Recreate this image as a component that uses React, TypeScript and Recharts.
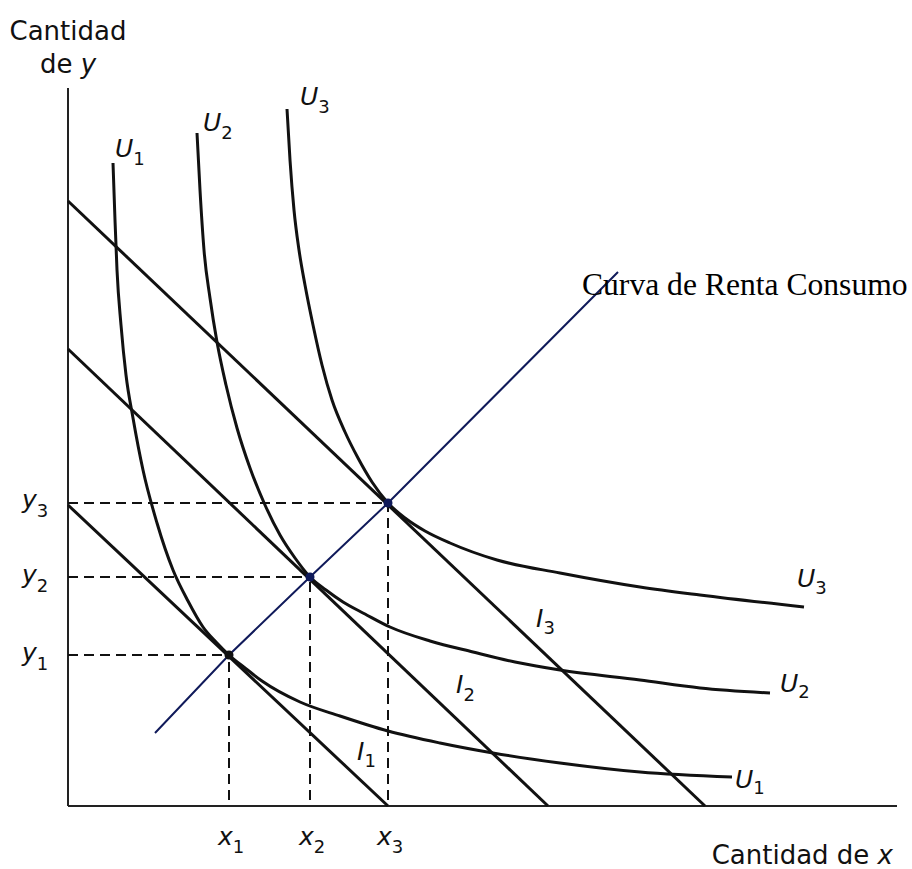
import { LineChart, Line, XAxis, YAxis, ReferenceLine, ReferenceDot } from "recharts";

type Pt = { x: number; y: number };

// quantities of x and y (origin = corner of the axes)
const U1: Pt[] = [
  { x: 45, y: 643 }, { x: 47, y: 586 }, { x: 49, y: 536 }, { x: 53, y: 481 },
  { x: 58, y: 431 }, { x: 65, y: 388 }, { x: 75, y: 336 }, { x: 89, y: 283 },
  { x: 105, y: 236 }, { x: 120, y: 205 }, { x: 135, y: 179 }, { x: 148, y: 164 },
  { x: 161, y: 151 }, { x: 177, y: 138 }, { x: 194, y: 125 }, { x: 232, y: 104 },
  { x: 272, y: 90 }, { x: 320, y: 75 }, { x: 372, y: 63 }, { x: 425, y: 53 },
  { x: 492, y: 43 }, { x: 572, y: 34 }, { x: 664, y: 29 },
];
const U2: Pt[] = [
  { x: 129, y: 673 }, { x: 132, y: 616 }, { x: 136, y: 556 }, { x: 142, y: 508 },
  { x: 149, y: 464 }, { x: 158, y: 421 }, { x: 169, y: 378 }, { x: 182, y: 338 },
  { x: 197, y: 301 }, { x: 212, y: 271 }, { x: 227, y: 248 }, { x: 242, y: 229 },
  { x: 258, y: 216 }, { x: 275, y: 204 }, { x: 297, y: 192 }, { x: 322, y: 179 },
  { x: 362, y: 165 }, { x: 405, y: 154 }, { x: 447, y: 144 }, { x: 492, y: 136 },
  { x: 572, y: 126 }, { x: 632, y: 118 }, { x: 702, y: 113 },
];
const U3: Pt[] = [
  { x: 219, y: 697 }, { x: 222, y: 646 }, { x: 226, y: 596 }, { x: 231, y: 556 },
  { x: 237, y: 521 }, { x: 245, y: 481 }, { x: 254, y: 441 }, { x: 264, y: 406 },
  { x: 277, y: 374 }, { x: 290, y: 348 }, { x: 304, y: 324 }, { x: 320, y: 303 },
  { x: 337, y: 288 }, { x: 357, y: 275 }, { x: 382, y: 263 }, { x: 429, y: 246 },
  { x: 492, y: 233 }, { x: 572, y: 219 }, { x: 632, y: 211 }, { x: 736, y: 199 },
];

// budget lines (intercepts on both axes)
const I1: Pt[] = [{ x: 0, y: 301 }, { x: 320, y: 0 }];
const I2: Pt[] = [{ x: 0, y: 457 }, { x: 480, y: 0 }];
const I3: Pt[] = [{ x: 0, y: 605 }, { x: 637, y: 0 }];

// equilibrium points
const X_EQ = [161, 242, 320];
const Y_EQ = [151, 229, 303];

// curva de renta consumo
const CRC: Pt[] = [
  { x: 87, y: 73 }, { x: 161, y: 151 }, { x: 242, y: 229 }, { x: 320, y: 303 }, { x: 550, y: 534 },
];

const X_AXIS_END = 829;
const Y_AXIS_END = 718;

const INK = "#111";
const NAVY = "#101a5a";
const SANS = "'DejaVu Sans', sans-serif";

function Sub({ x, y, main, sub, dy = 8 }: { x: number; y: number; main: string; sub: string; dy?: number }) {
  return (
    <text x={x} y={y} fontFamily={SANS} fontSize={25} fontStyle="italic" fill={INK}>
      {main}
      <tspan dy={dy} fontSize={18} fontStyle="normal">{sub}</tspan>
    </text>
  );
}

export default function App() {
  return (
    <div style={{ position: "absolute", left: 0, top: 0, width: 912, height: 869, background: "#fff" }}>
      <LineChart width={912} height={869} margin={{ top: 0, right: 0, bottom: 0, left: 0 }}>
        <XAxis type="number" dataKey="x" domain={[-68, 844]} allowDataOverflow hide />
        <YAxis type="number" dataKey="y" domain={[-63, 806]} allowDataOverflow hide />

        <ReferenceLine segment={[{ x: 0, y: 0 }, { x: X_AXIS_END, y: 0 }]} stroke="#222" strokeWidth={2} />
        <ReferenceLine segment={[{ x: 0, y: 0 }, { x: 0, y: Y_AXIS_END }]} stroke="#222" strokeWidth={2} />

        {X_EQ.map((xv, i) => (
          <ReferenceLine key={"h" + i} segment={[{ x: 0, y: Y_EQ[i] }, { x: xv, y: Y_EQ[i] }]}
            stroke={INK} strokeWidth={2} strokeDasharray="10 6" />
        ))}
        {X_EQ.map((xv, i) => (
          <ReferenceLine key={"v" + i} segment={[{ x: xv, y: 6 }, { x: xv, y: Y_EQ[i] }]}
            stroke={INK} strokeWidth={2} strokeDasharray="10 6" />
        ))}

        <Line data={I1} dataKey="y" type="linear" stroke={INK} strokeWidth={3} dot={false} activeDot={false} isAnimationActive={false} />
        <Line data={I2} dataKey="y" type="linear" stroke={INK} strokeWidth={3} dot={false} activeDot={false} isAnimationActive={false} />
        <Line data={I3} dataKey="y" type="linear" stroke={INK} strokeWidth={3} dot={false} activeDot={false} isAnimationActive={false} />

        <Line data={U1} dataKey="y" type="monotone" stroke={INK} strokeWidth={3} dot={false} activeDot={false} isAnimationActive={false} />
        <Line data={U2} dataKey="y" type="monotone" stroke={INK} strokeWidth={3} dot={false} activeDot={false} isAnimationActive={false} />
        <Line data={U3} dataKey="y" type="monotone" stroke={INK} strokeWidth={3} dot={false} activeDot={false} isAnimationActive={false} />

        <Line data={CRC} dataKey="y" type="linear" stroke={NAVY} strokeWidth={2} dot={false} activeDot={false} isAnimationActive={false} />

        {X_EQ.map((xv, i) => (
          <ReferenceDot key={"d" + i} x={xv} y={Y_EQ[i]} r={4.5} fill={i === 0 ? "#111" : NAVY} stroke="none" />
        ))}
      </LineChart>

      <svg width={912} height={869} style={{ position: "absolute", left: 0, top: 0, pointerEvents: "none" }}>
        <text x={68} y={40} textAnchor="middle" fontFamily={SANS} fontSize={26} fill={INK}>Cantidad</text>
        <text x={68} y={73} textAnchor="middle" fontFamily={SANS} fontSize={26} fill={INK}>
          de <tspan fontStyle="italic">y</tspan>
        </text>
        <text x={893} y={864} textAnchor="end" fontFamily={SANS} fontSize={26} fill={INK}>
          Cantidad de <tspan fontStyle="italic">x</tspan>
        </text>
        <text x={582} y={295} fontFamily="'Liberation Serif', 'Times New Roman', serif" fontSize={31.6} fill="#000">
          Curva de Renta Consumo
        </text>

        <Sub x={115} y={157} main="U" sub="1" />
        <Sub x={203} y={131} main="U" sub="2" />
        <Sub x={300} y={105} main="U" sub="3" />
        <Sub x={797} y={587} main="U" sub="3" dy={7} />
        <Sub x={780} y={692} main="U" sub="2" dy={6} />
        <Sub x={735} y={788} main="U" sub="1" dy={6} />

        <Sub x={357} y={760} main="I" sub="1" dy={7} />
        <Sub x={456} y={693} main="I" sub="2" dy={8} />
        <Sub x={536} y={627} main="I" sub="3" dy={7} />

        <Sub x={22} y={508} main="y" sub="3" dy={9} />
        <Sub x={22} y={583} main="y" sub="2" dy={9} />
        <Sub x={22} y={661} main="y" sub="1" dy={9} />

        <Sub x={218} y={845} main="x" sub="1" dy={8} />
        <Sub x={299} y={845} main="x" sub="2" dy={8} />
        <Sub x={377} y={845} main="x" sub="3" dy={8} />
      </svg>
    </div>
  );
}
